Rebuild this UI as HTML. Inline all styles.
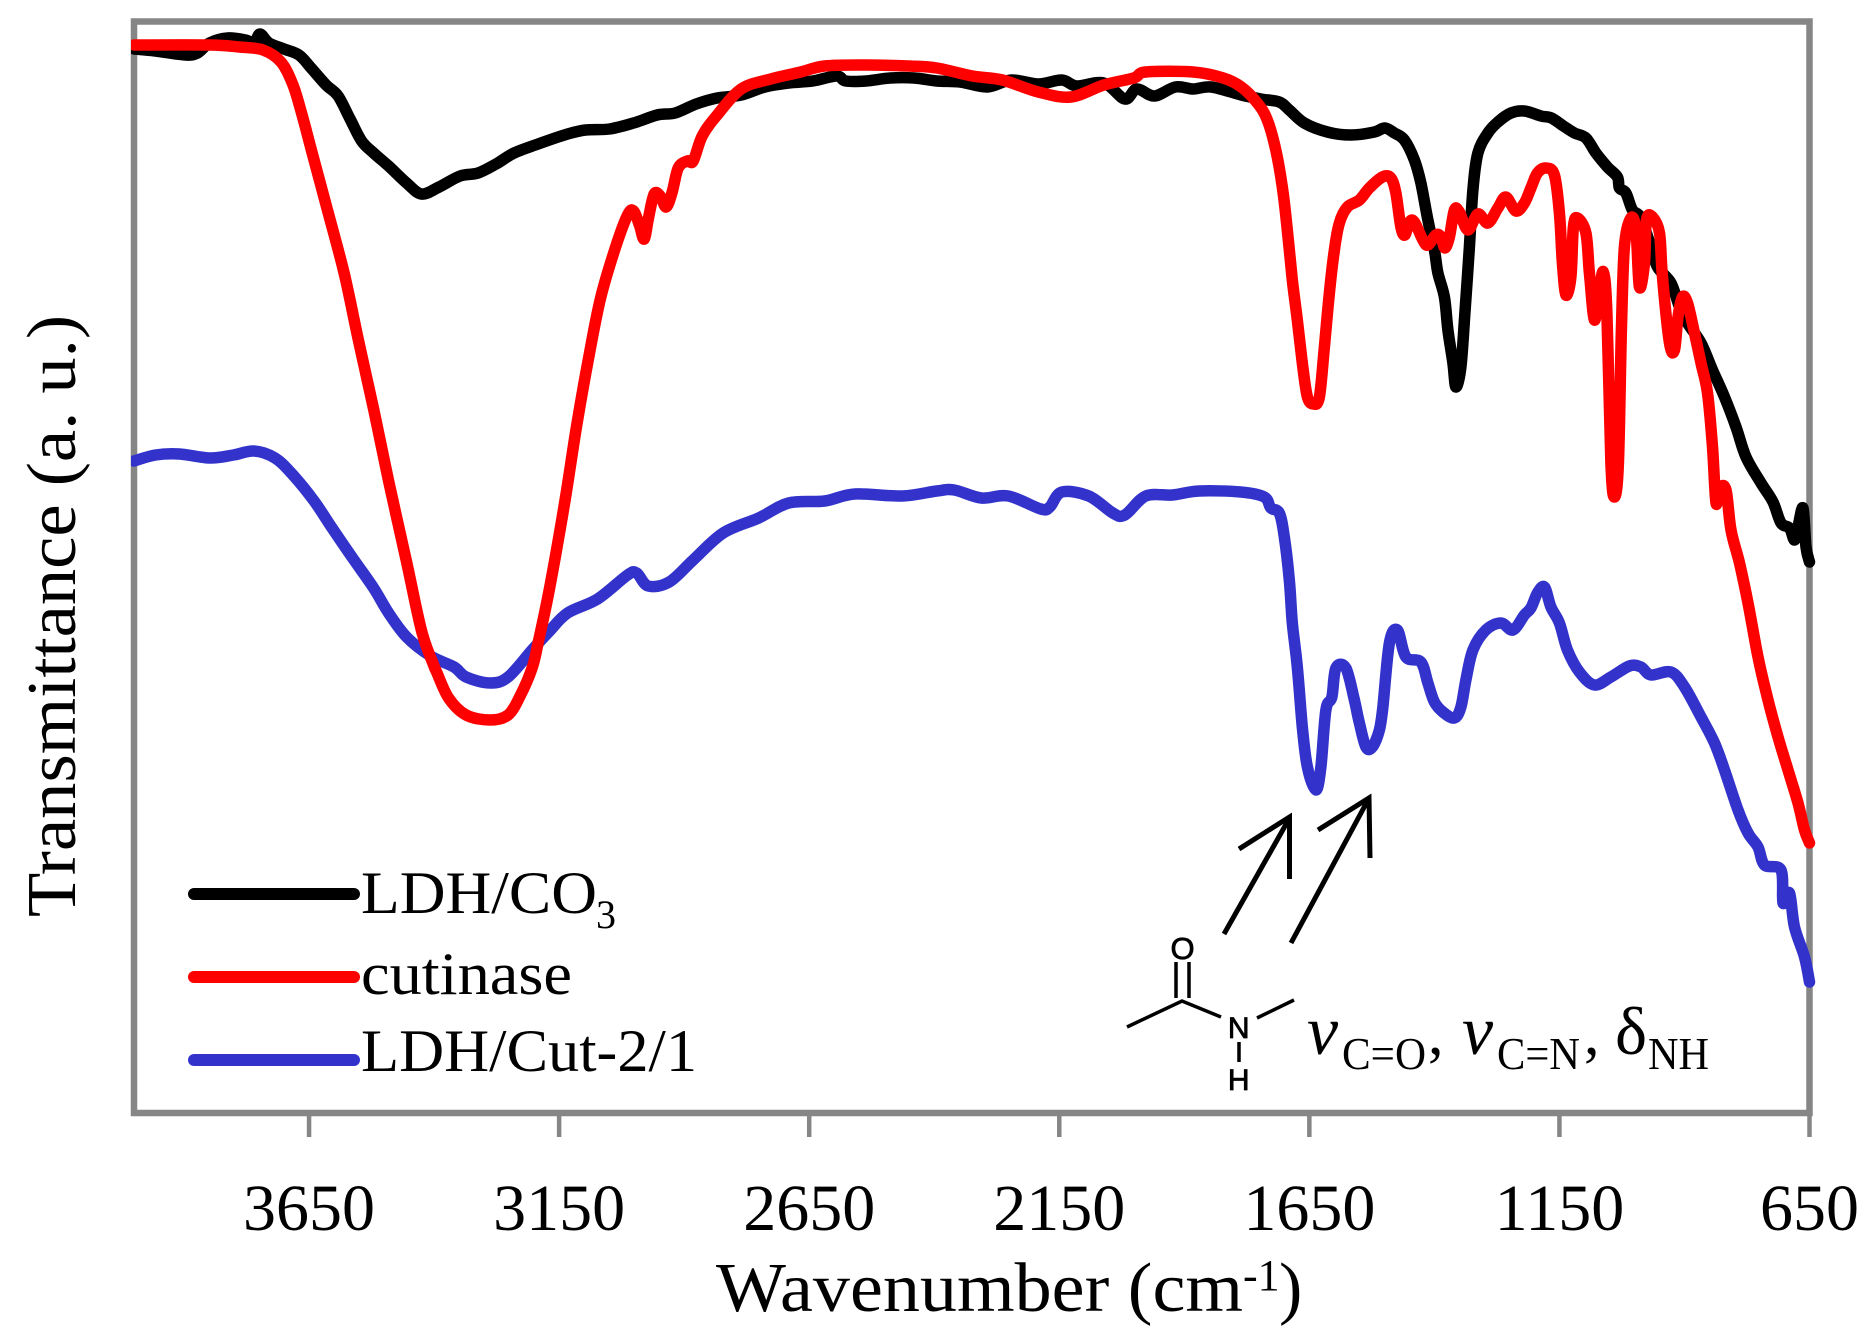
<!DOCTYPE html>
<html lang="en">
<head>
<meta charset="utf-8">
<title>FTIR spectra</title>
<style>
html,body{margin:0;padding:0;background:#fff;width:1872px;height:1336px;overflow:hidden}
svg{display:block}
text{font-family:"Liberation Serif","DejaVu Serif",serif;fill:#000}
.sans{font-family:"Liberation Sans","DejaVu Sans",sans-serif}
</style>
</head>
<body>
<svg id="chart" xmlns="http://www.w3.org/2000/svg" width="1872" height="1336" viewBox="0 0 1872 1336">
  <defs>
    <clipPath id="series-clip"><rect x="131" y="0" width="1741" height="1336"/></clipPath>
  </defs>
  <rect x="0" y="0" width="1872" height="1336" fill="#fff"/>
  <rect x="134" y="21.5" width="1675.5" height="1091.5" fill="none" stroke="#868686" stroke-width="6.5"/>
  <g id="ticks"></g>
  <g id="series" clip-path="url(#series-clip)"></g>

  <text transform="translate(75,917) rotate(-90)" font-size="70" textLength="602" lengthAdjust="spacingAndGlyphs">Transmittance (a. u.)</text>
  <g>
    <text x="716" y="1311" font-size="70" textLength="527" lengthAdjust="spacingAndGlyphs">Wavenumber (cm</text>
    <text x="1243" y="1290" font-size="44">-1</text>
    <text x="1279" y="1311" font-size="70">)</text>
  </g>

  <g>
    <line x1="194" y1="894" x2="354" y2="894" stroke="#000" stroke-width="12" stroke-linecap="round"/>
    <text x="361" y="913" font-size="60" textLength="236" lengthAdjust="spacingAndGlyphs">LDH/CO</text>
    <text x="596" y="928" font-size="40">3</text>
    <line x1="194" y1="977" x2="354" y2="977" stroke="#f00" stroke-width="12" stroke-linecap="round"/>
    <text x="361" y="994" font-size="60" textLength="211" lengthAdjust="spacingAndGlyphs">cutinase</text>
    <line x1="194" y1="1060" x2="354" y2="1060" stroke="#3333cc" stroke-width="12" stroke-linecap="round"/>
    <text x="361" y="1071" font-size="60" textLength="336" lengthAdjust="spacingAndGlyphs">LDH/Cut-2/1</text>
  </g>

  <g fill="none" stroke="#000" stroke-width="5">
    <path d="M1224 934 L1289 819 M1239 849 L1289.5 817 L1289.5 879"/>
    <path d="M1291 943 L1368 800 M1318 830 L1369 798 L1370 858"/>
  </g>

  <g fill="none" stroke="#000" stroke-width="3.5">
    <path d="M1127 1027 L1182 1001 L1221 1017 M1176 962 L1176 998 M1189 962 L1189 998 M1257 1018 L1294 1000 M1239 1042 L1239 1062"/>
  </g>
  <text class="sans" x="1182.5" y="959" font-size="31" text-anchor="middle" stroke="#000" stroke-width="0.8">O</text>
  <text class="sans" x="1238.7" y="1038" font-size="30" text-anchor="middle" stroke="#000" stroke-width="0.8">N</text>
  <text class="sans" x="1238.7" y="1090" font-size="30" text-anchor="middle" stroke="#000" stroke-width="0.8">H</text>

  <g>
    <text x="1307" y="1054" font-size="70" font-style="italic">ν</text>
    <text x="1342" y="1069" font-size="46" textLength="84" lengthAdjust="spacingAndGlyphs">C=O</text>
    <text x="1428" y="1054" font-size="62">,</text>
    <text x="1462" y="1054" font-size="70" font-style="italic">ν</text>
    <text x="1497" y="1069" font-size="46" textLength="83" lengthAdjust="spacingAndGlyphs">C=N</text>
    <text x="1584" y="1054" font-size="62">,</text>
    <text x="1615" y="1054" font-size="68">δ</text>
    <text x="1648" y="1069" font-size="46" textLength="61" lengthAdjust="spacingAndGlyphs">NH</text>
  </g>
</svg>
<script>
// Tick values (cm-1)
const tickLabels = [3650, 3150, 2650, 2150, 1650, 1150, 650];

// LDH/CO3
const ldhCo3Wavenumber = [4000,3957,3897,3873,3849,3813,3777,3760,3748,3730,3700,3670,3646,3616,3592,3568,3545,3521,3491,3455,3425,3390,3348,3312,3276,3240,3192,3133,3097,3049,3001,2954,2918,2876,2834,2786,2739,2691,2643,2595,2577,2536,2488,2440,2395,2348,2294,2246,2192,2145,2115,2061,2019,1995,1960,1918,1882,1846,1786,1747,1710,1690,1660,1614,1567,1520,1499,1480,1460,1440,1427,1413,1400,1393,1380,1373,1363,1357,1347,1339,1330,1323,1313,1293,1273,1247,1220,1187,1166,1142,1120,1097,1077,1054,1034,1030,1017,1004,987,967,954,927,910,894,867,844,820,797,777,747,723,707,690,680,673,663,657,650];
const ldhCo3Transmittance = [1064,1062,1058,1060,1070,1075,1073,1070,1079,1070,1064,1058,1045,1028,1017,994,972,960,947,930,919,926,937,940,949,960,969,979,983,984,990,998,1000,1009,1015,1018,1026,1030,1032,1037,1032,1032,1035,1035,1032,1031,1026,1033,1029,1033,1027,1030,1014,1024,1017,1026,1024,1026,1018,1014,1011,1003,990,981,978,981,985,980,973,953,930,893,863,840,816,783,750,726,746,800,866,923,960,980,991,1000,1002,997,995,987,980,975,960,946,936,925,920,903,895,866,846,830,806,790,770,743,716,686,656,630,611,590,585,573,586,605,566,551];

// Cutinase
const cutinaseWavenumber = [4000,3849,3789,3742,3706,3682,3664,3646,3616,3580,3551,3521,3491,3455,3425,3401,3395,3371,3336,3288,3252,3228,3204,3192,3169,3139,3115,3091,3067,3037,3013,3001,2989,2980,2971,2960,2948,2936,2924,2912,2894,2882,2864,2834,2786,2727,2667,2619,2536,2452,2395,2324,2264,2192,2127,2061,2001,1977,1882,1822,1786,1754,1734,1717,1704,1694,1684,1674,1664,1654,1642,1630,1620,1610,1600,1590,1574,1550,1530,1504,1487,1477,1467,1459,1450,1440,1423,1413,1397,1387,1379,1370,1360,1350,1333,1313,1293,1273,1257,1237,1220,1207,1194,1177,1160,1150,1144,1137,1127,1122,1114,1097,1090,1080,1070,1062,1055,1047,1040,1032,1026,1020,1007,997,990,980,976,964,950,944,930,920,913,904,894,880,867,854,844,837,830,817,807,790,773,753,733,713,693,673,660,650];
const cutinaseTransmittance = [1068,1068,1066,1063,1051,1028,998,964,908,840,772,704,632,551,482,448,441,415,398,393,398,417,445,470,525,610,687,755,815,866,898,902,887,874,896,919,917,906,921,945,952,952,977,998,1024,1034,1041,1047,1048,1047,1045,1037,1033,1021,1016,1028,1035,1041,1041,1035,1026,1010,993,963,926,883,833,793,750,716,709,716,766,820,863,890,906,913,925,936,935,920,886,878,891,891,873,868,878,876,865,876,903,901,883,899,890,905,916,902,910,925,940,945,938,900,850,818,836,886,895,880,840,793,823,841,800,650,616,650,783,866,895,883,826,850,893,896,880,836,770,763,796,816,810,780,750,720,666,610,625,623,583,550,510,456,413,376,343,310,283,270];

// LDH/Cut-2/1
const ldhCutWavenumber = [4000,3957,3909,3849,3801,3760,3718,3682,3640,3604,3563,3521,3491,3455,3407,3360,3336,3288,3252,3204,3169,3133,3073,3013,2995,2972,2930,2882,2822,2751,2691,2619,2559,2464,2395,2360,2306,2252,2187,2169,2145,2091,2043,2019,1977,1924,1870,1787,1740,1727,1710,1700,1690,1684,1674,1664,1654,1637,1627,1617,1605,1597,1577,1560,1550,1537,1524,1510,1503,1490,1474,1457,1427,1413,1400,1383,1360,1347,1337,1323,1297,1267,1243,1220,1207,1194,1180,1167,1150,1134,1110,1080,1047,1010,987,967,927,900,867,840,820,793,773,753,740,707,703,690,680,660,650];
const ldhCutTransmittance = [652,658,659,655,658,662,655,638,612,585,555,525,500,476,457,446,436,430,436,463,482,500,514,538,540,527,531,553,580,595,610,612,619,617,622,623,615,617,604,606,621,617,600,598,617,618,622,621,616,605,600,576,533,490,446,386,346,323,346,403,416,445,445,413,390,366,366,383,406,470,483,456,451,430,411,401,395,406,433,463,483,490,483,498,505,520,526,506,490,463,441,428,436,447,446,438,441,426,396,370,343,303,280,266,248,243,210,220,186,156,131];

const plotLeft = 134, plotRight = 1809.5, plotTop = 21.5, plotBottom = 1113;
const xMax = 4000, xMin = 650, yMin = 0, yMax = 1091.5;

function xScale(w) { return plotLeft + (xMax - w) / (xMax - xMin) * (plotRight - plotLeft); }
function yScale(v) { return plotBottom - (v - yMin) / (yMax - yMin) * (plotBottom - plotTop); }

const NS = 'http://www.w3.org/2000/svg';

function linePath(xs, ys) {
  const p = xs.map((w, i) => [xScale(w), yScale(ys[i])]);
  let d = 'M' + p[0][0].toFixed(1) + ' ' + p[0][1].toFixed(1);
  for (let i = 0; i < p.length - 1; i++) {
    const a = p[Math.max(i - 1, 0)], b = p[i], c = p[i + 1], e = p[Math.min(i + 2, p.length - 1)];
    const c1x = b[0] + (c[0] - a[0]) / 6, c1y = b[1] + (c[1] - a[1]) / 6;
    const c2x = c[0] - (e[0] - b[0]) / 6, c2y = c[1] - (e[1] - b[1]) / 6;
    d += 'C' + c1x.toFixed(1) + ' ' + c1y.toFixed(1) + ' ' + c2x.toFixed(1) + ' ' + c2y.toFixed(1) + ' ' + c[0].toFixed(1) + ' ' + c[1].toFixed(1);
  }
  return d;
}

const seriesGroup = document.getElementById('series');

const blackLine = document.createElementNS(NS, 'path');


blackLine.setAttribute('d', linePath(ldhCo3Wavenumber, ldhCo3Transmittance));
blackLine.setAttribute('stroke', '#000');

const blueLine = document.createElementNS(NS, 'path');


blueLine.setAttribute('d', linePath(ldhCutWavenumber, ldhCutTransmittance));
blueLine.setAttribute('stroke', '#3333cc');

const redLine = document.createElementNS(NS, 'path');


redLine.setAttribute('d', linePath(cutinaseWavenumber, cutinaseTransmittance));
redLine.setAttribute('stroke', '#ff0000');

[blackLine, blueLine, redLine].forEach(function (line) {
  line.setAttribute('fill', 'none');
  line.setAttribute('stroke-width', '11.5');
  line.setAttribute('stroke-linejoin', 'round');
  line.setAttribute('stroke-linecap', 'round');
  seriesGroup.appendChild(line);
});

const tickGroup = document.getElementById('ticks');
tickLabels.forEach(function (label) {
  const x = xScale(label);
  const tick = document.createElementNS(NS, 'line');
  
  
  tick.setAttribute('x1', x);
  tick.setAttribute('x2', x);
  tick.setAttribute('y1', plotBottom);
  tick.setAttribute('y2', plotBottom + 24);
  tick.setAttribute('stroke', '#868686');
  tick.setAttribute('stroke-width', '4.5');
  tickGroup.appendChild(tick);
  const text = document.createElementNS(NS, 'text');
  
  
  text.setAttribute('x', x);
  text.setAttribute('y', 1230);
  text.setAttribute('font-size', '66');
  text.setAttribute('text-anchor', 'middle');
  text.textContent = label;
  tickGroup.appendChild(text);
});
</script>
</body>
</html>
